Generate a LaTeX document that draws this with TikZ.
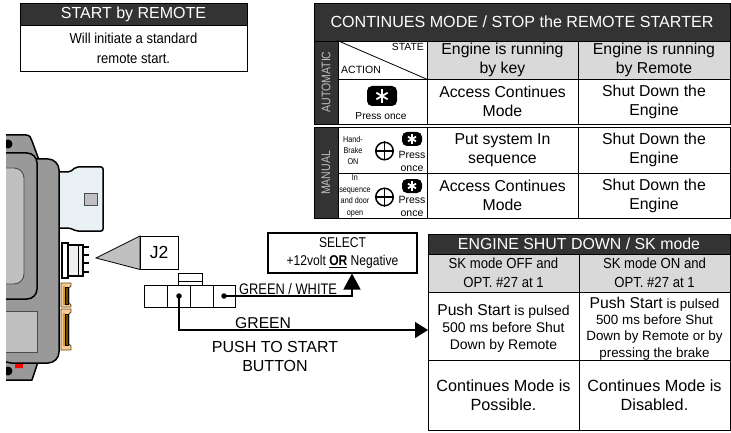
\documentclass[tikz,border=0pt]{standalone}
\usepackage{fontspec}
\setmainfont{Liberation Sans}
\usetikzlibrary{arrows.meta,calc}
\definecolor{hdark}{HTML}{333333}
\definecolor{hgrey}{HTML}{D9D9D9}
\definecolor{devgrey}{HTML}{999999}
\definecolor{devlight}{HTML}{C0C0C0}
\definecolor{connblue}{HTML}{E9F1F5}
\definecolor{orangec}{HTML}{F7C99B}
\definecolor{orangeb}{HTML}{6B4A00}
\definecolor{goldc}{HTML}{D9A020}
\newcommand{\fs}[2]{\fontsize{#1}{#2}\selectfont}
\newcommand{\cz}[2]{\scalebox{#1}[1]{#2}}
\tikzset{
  cellbox/.style={draw=black,line width=0.9pt,inner sep=0pt,align=center,text=black},
  darkcell/.style={cellbox,fill=hdark,text=white},
  greycell/.style={cellbox,fill=hgrey},
  plain/.style={inner sep=0pt,align=center},
  body/.style={font=\fs{15.8}{19}},
  wire/.style={line width=1.3pt},
  dev/.style={draw=black,line width=1.5pt,line join=round},
  dotn/.style={circle,fill=black,inner sep=0pt,minimum size=5.5pt},
  plusn/.style={circle,draw=black,line width=1.5pt,inner sep=0pt,minimum size=17.5pt},
  keyn/.style={fill=black,rounded corners=5pt,inner sep=0pt}
}
\newcommand{\cellnode}[7]{\node[#6,minimum width={#4-#2},minimum height={#5-#3}] (#1) at ({(#2+#4)/2},{(#3+#5)/2}) {#7};}
\newcommand{\keymark}[5]{\node[keyn,minimum width=#4,minimum height=#5] (#1) at (#2,#3) {};
  \foreach \a in {90,30,150}{\draw[white,line width=1.8pt] ($(#1)+(\a:#5*0.33)$) -- ($(#1)+(\a+180:#5*0.33)$);}}
\newcommand{\plusmark}[3]{\node[plusn] (#1) at (#2,#3) {};
  \draw[line width=1.5pt] (#1.north) -- (#1.south) (#1.west) -- (#1.east);}
\begin{document}
\begin{tikzpicture}[x=1pt,y=-1pt]
\useasboundingbox (0,0) rectangle (731,433);
% device
\begin{scope}
\clip (6,120) rectangle (120,390);
\draw[dev,fill=devgrey] (0,135) -- (26,135) .. controls (30,135) and (31,138) .. (32,141) -- (39,160) -- (20,175) -- (0,175) -- cycle;
\draw[dev,fill=devgrey] (0,355) -- (38,362) -- (32,380) -- (0,380) -- cycle;
\fill[red] (15,360) rectangle (23,368);
\fill[red] (15,368) arc[start angle=180,end angle=360,radius=4] -- cycle;
\fill[black] (8,144) circle (4.5);
\fill[black] (8,371) circle (4.5);
\draw[dev,fill=devgrey,rounded corners=11pt] (0,159) rectangle (59,363);
\draw[dev,fill=devgrey,rounded corners=10pt] (-10,153) rectangle (37,299);
\draw[draw=black!70,line width=0.9pt,fill=devlight,rounded corners=10pt] (-10,168) rectangle (24,284);
\draw[draw=black!70,line width=0.9pt,fill=devlight] (-10,311) rectangle (37,352);
\end{scope}
% top connector
\draw[dev,fill=connblue,rounded corners=2pt] (60,172) -- (70,172) -- (76,167) -- (103,167) -- (103,231) -- (76,231) -- (70,228) -- (60,228);
\draw[draw=black!70,line width=0.9pt,fill=devlight] (84,193) rectangle (97,205);
% J2 header
\foreach \py in {247,255,263,272}{\draw[line width=1.3pt] (82,\py) -- (89,\py);}
\draw[line width=1.1pt,fill=white] (62,243) rectangle (68,278);
\draw[line width=1.1pt,fill=hgrey!40] (68,245) rectangle (83,276);
\draw[line width=0.8pt] (78,245) -- (78,276);
% orange connectors
\draw[line width=0.8pt,draw=orangeb,fill=orangec] (61,283) -- (71,283) -- (71,286) -- (69,288) -- (69,303) -- (71,305) -- (71,307) -- (61,307) -- cycle;
\fill[goldc] (63,286) rectangle (65,305);
\draw[line width=0.7pt,fill=orangeb] (65,287) rectangle (68,304);
\draw[line width=0.8pt,draw=orangeb,fill=orangec] (61,309) -- (71,309) -- (71,312) -- (69,314) -- (69,344) -- (71,346) -- (71,350) -- (61,350) -- cycle;
\fill[goldc] (63,313) rectangle (65,346);
\draw[line width=0.7pt,fill=orangeb] (65,314) rectangle (68,345);
% start box
\cellnode{starthead}{20}{3}{247}{25}{darkcell,font=\fs{16}{18}}{\raisebox{-0.7pt}{START by REMOTE}}
\cellnode{startbody}{20}{25}{247}{71}{cellbox,font=\fs{14.5}{20}}{\cz{0.9}{Will initiate a standard}\\\cz{0.9}{remote start.}}
% top table
\cellnode{conthead}{314}{3}{730}{41}{darkcell,font=\fs{16.1}{18}}{CONTINUES MODE / STOP the REMOTE STARTER}
\cellnode{autobar}{314}{41}{338}{124}{darkcell}{}
\node[plain,rotate=90,text=devlight,font=\fs{12.4}{14}] (autolab) at (326,82) {\cz{0.85}{AUTOMATIC}};
\cellnode{statecell}{338}{41}{427}{79}{cellbox}{}
\draw[line width=0.8pt] (statecell.north west) -- (statecell.south east);
\node[plain,anchor=east,font=\fs{10.4}{12}] (statelab) at (424,47) {STATE};
\node[plain,anchor=west,font=\fs{10.5}{12}] (actionlab) at (341,70) {ACTION};
\cellnode{h1}{427}{41}{578}{79}{greycell,body}{Engine is running\\by key}
\cellnode{h2}{578}{41}{730}{79}{greycell,body}{Engine is running\\by Remote}
\cellnode{a0}{338}{79}{427}{124}{cellbox}{}
\keymark{keya}{382}{96}{30}{20}
\node[plain,font=\fs{10.2}{12}] (pressa) at (381,116) {Press once};
\cellnode{a1}{427}{79}{578}{124}{cellbox,body}{Access Continues\\Mode}
\cellnode{a2}{578}{79}{730}{124}{cellbox,body}{Shut Down the\\Engine}
\cellnode{manbar}{314}{127}{338}{218}{darkcell}{}
\node[plain,rotate=90,text=devlight,font=\fs{12.4}{14}] (manlab) at (326,173) {\cz{0.85}{MANUAL}};
\cellnode{m0}{338}{127}{427}{173}{cellbox}{}
\node[plain,font=\fs{8.5}{11}] (handlab) at (353,150) {\cz{0.85}{Hand-}\\\cz{0.85}{Brake}\\\cz{0.85}{ON}};
\plusmark{plusa}{384.5}{151}
\keymark{keyb}{412}{139}{20}{14}
\node[plain,font=\fs{10.5}{13}] (pressb) at (412,161.5) {Press\\once};
\cellnode{m1}{427}{127}{578}{173}{cellbox,body}{Put system In\\sequence}
\cellnode{m2}{578}{127}{730}{173}{cellbox,body}{Shut Down the\\Engine}
\cellnode{n0}{338}{173}{427}{218}{cellbox}{}
\node[plain,font=\fs{8.5}{11.5}] (seqlab) at (355,196) {\cz{0.85}{In}\\\cz{0.85}{sequence}\\\cz{0.85}{and door}\\\cz{0.85}{open}};
\plusmark{plusb}{384.5}{197}
\keymark{keyc}{412}{186}{20}{14}
\node[plain,font=\fs{10.5}{13}] (pressc) at (412,206.5) {Press\\once};
\cellnode{n1}{427}{173}{578}{218}{cellbox,body}{Access Continues\\Mode}
\cellnode{n2}{578}{173}{730}{218}{cellbox,body}{Shut Down the\\Engine}
% J2 callout
\draw[line width=0.8pt,fill=devlight] (96,258) -- (140,236) -- (140,269.5) -- cycle;
\cellnode{jtwo}{140}{236}{178}{269.5}{cellbox,font=\fs{17.5}{20}}{J2}
% plug
\cellnode{tabo}{178}{273}{202}{285}{cellbox}{}
\draw[line width=1pt] (178,281.5) -- (202,281.5);
\cellnode{p1}{144}{285}{167}{307}{cellbox}{}
\cellnode{p2}{167}{285}{190}{307}{cellbox}{}
\cellnode{p3}{190}{285}{213}{307}{cellbox}{}
\cellnode{p4}{213}{285}{235}{307}{cellbox}{}
\node[dotn] (dotb) at (179,296) {};
\node[dotn] (dota) at (224,296) {};
% select
\cellnode{sel}{268}{233}{417}{273}{cellbox,line width=1.5pt,font=\fs{14.2}{18}}{\cz{0.85}{SELECT}\\\cz{0.85}{+12volt \textbf{\underline{OR}} Negative}}
\coordinate (seltip) at (352,273.5);
\coordinate (engtip) at (428,330);
\draw[wire,-{Triangle[length=16pt,width=17pt]}] (dota.center) -| (seltip);
\draw[wire,-{Triangle[length=13pt,width=16pt]}] (dotb.center) |- (engtip);
\node[plain,anchor=west,font=\fs{15.3}{17}] (gwlab) at (239,289.5) {\cz{0.84}{GREEN / WHITE}};
\node[plain,anchor=west,font=\fs{15.7}{17}] (glab) at (235,323) {GREEN};
\node[plain,font=\fs{16}{19}] (pushlab) at (275,356.5) {PUSH TO START\\BUTTON};
% engine table
\cellnode{enghead}{428}{234}{730}{254}{darkcell,font=\fs{15.9}{18}}{ENGINE SHUT DOWN / SK mode}
\cellnode{e1}{428}{254}{579}{292}{greycell,font=\fs{14.6}{19}}{\cz{0.9}{SK mode OFF and}\\\cz{0.9}{OPT. \#27 at 1}}
\cellnode{e2}{579}{254}{730}{292}{greycell,font=\fs{14.6}{19}}{\cz{0.9}{SK mode ON and}\\\cz{0.9}{OPT. \#27 at 1}}
\cellnode{f1}{428}{292}{579}{360}{cellbox,font=\fs{14}{17}}{\rule{0pt}{16pt}{\fs{15.7}{17}Push Start} is pulsed\\500 ms before Shut\\Down by Remote}
\cellnode{f2}{579}{292}{730}{360}{cellbox,font=\fs{13.4}{16.3}}{\rule{0pt}{16pt}{\fs{15.7}{16}Push Start} is pulsed\\500 ms before Shut\\Down by Remote or by\\pressing the brake}
\cellnode{g1}{428}{360}{579}{430}{cellbox,font=\fs{16.2}{19}}{Continues Mode is\\Possible.}
\cellnode{g2}{579}{360}{730}{430}{cellbox,font=\fs{16.2}{19}}{Continues Mode is\\Disabled.}
\end{tikzpicture}
\end{document}
